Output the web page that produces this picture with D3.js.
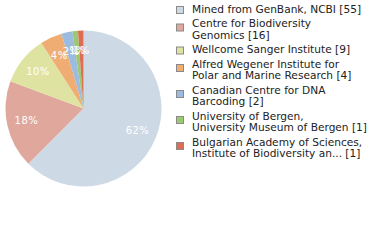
<!DOCTYPE html>
<html>
<head>
<meta charset="utf-8">
<script src="https://cdn.jsdelivr.net/npm/d3@7"></script>
<style>
  body { margin: 0; background: #fff; }
  svg { display: block; font-family: "DejaVu Sans", sans-serif; }
</style>
</head>
<body>
<div class="chart"></div>
<script>
/* institutions (line breaks where the legend wraps) */
var categories = [
  "Mined from GenBank, NCBI",
  "Centre for Biodiversity\nGenomics",
  "Wellcome Sanger Institute",
  "Alfred Wegener Institute for\nPolar and Marine Research",
  "Canadian Centre for DNA\nBarcoding",
  "University of Bergen,\nUniversity Museum of Bergen",
  "Bulgarian Academy of Sciences,\nInstitute of Biodiversity an..."
];
/* number of records per institution */
var counts = [55, 16, 9, 4, 2, 1, 1];
var colors = ["#cdd9e5", "#e0a89d", "#dfe3a2", "#f0ad73", "#9cbbe0", "#9dc872", "#de6e53"];

var width = 380, height = 240;
var cx = 83.5, cy = 108.5, radius = 78;

var svg = d3.select(".chart")
  .append("svg")
    .attr("width", width)
    .attr("height", height);

var total = d3.sum(counts);

/* pie layout, clockwise from 12 o'clock, data order kept */
var pie = d3.pie().sort(null).value(function(d) { return d; });
var arcs = pie(counts);

var arc = d3.arc().innerRadius(0).outerRadius(radius);
var labelArc = d3.arc().innerRadius(radius * 0.75).outerRadius(radius * 0.75);

var g = svg.append("g")
  .attr("transform", "translate(" + cx + "," + cy + ")");

g.selectAll("path")
  .data(arcs)
  .enter()
    .append("path")
      .attr("d", arc)
      .attr("fill", function(d, i) { return colors[i]; });

/* percent labels */
g.selectAll("text")
  .data(arcs)
  .enter()
    .append("text")
      .attr("transform", function(d) { return "translate(" + labelArc.centroid(d) + ")"; })
      .attr("text-anchor", "middle")
      .attr("dy", "0.35em")
      .attr("font-size", 10)
      .attr("letter-spacing", 0.4)
      .attr("fill", "#fff")
      .text(function(d) { return Math.floor(d.value / total * 100) + "%"; });

/* legend */
var lineHeight = 11.5, itemGap = 14.5;
var y = 9;
var legend = svg.append("g");
categories.forEach(function(c, i) {
  var lines = (c + " [" + counts[i] + "]").split("\n");
  var item = legend.append("g");
  var sq = lines.length > 1 ? y + 4 : y + 1;
  item.append("rect")
    .attr("x", 176.5)
    .attr("y", sq - 3.5)
    .attr("width", 7)
    .attr("height", 7)
    .attr("fill", colors[i])
    .attr("stroke", "#8a8a8a")
    .attr("stroke-width", 1);
  var t = item.append("text")
    .attr("font-size", 10.6)
    .attr("fill", "#222");
  lines.forEach(function(l, j) {
    t.append("tspan")
      .attr("x", 192)
      .attr("y", y + j * lineHeight)
      .attr("dy", "0.35em")
      .text(l);
  });
  y += (lines.length - 1) * lineHeight + itemGap;
});
</script>
</body>
</html>
